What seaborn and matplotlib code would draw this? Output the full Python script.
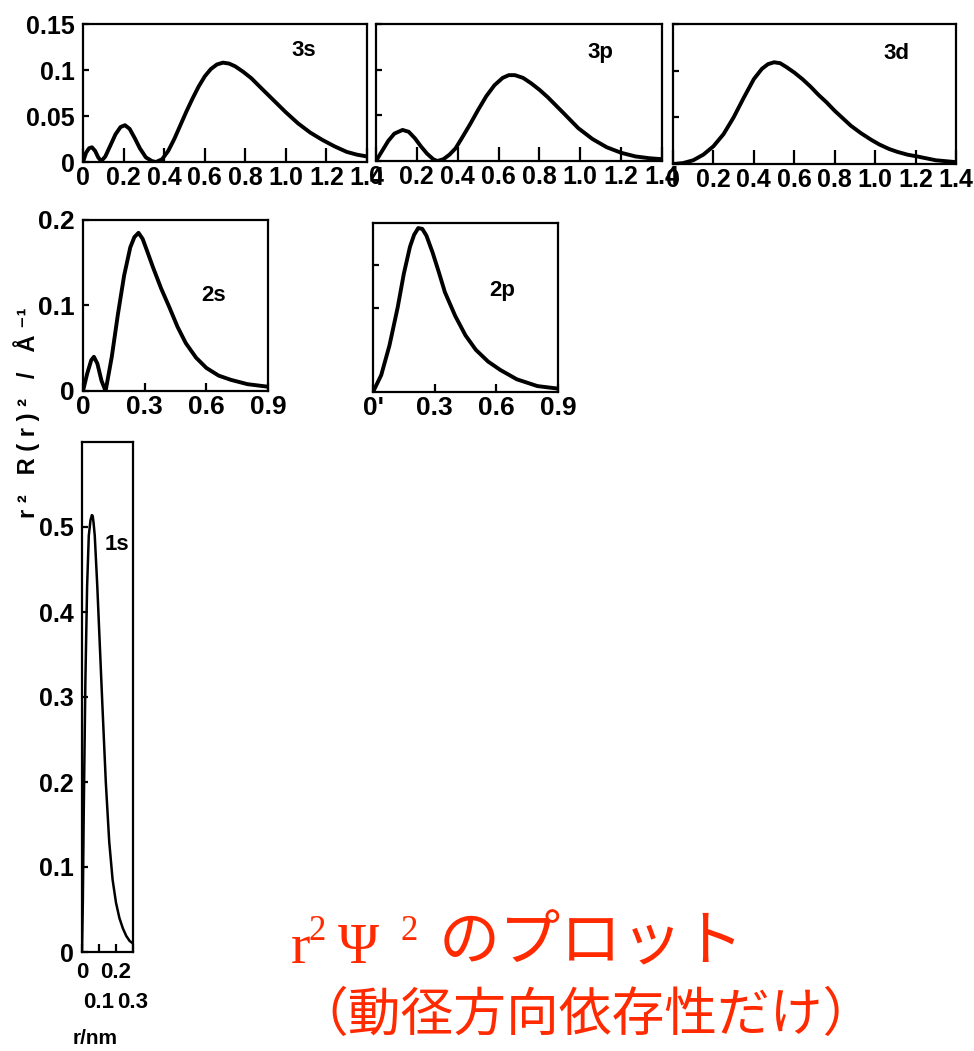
import numpy as np
import pandas as pd
import matplotlib
matplotlib.use("Agg")
import matplotlib.pyplot as plt
import seaborn as sns

# values (r in nm, r^2 R(r)^2 in A^-1)
r_3s = [0, 0.015, 0.03, 0.044, 0.06, 0.075, 0.09, 0.11, 0.135, 0.16, 0.185, 0.207, 0.23, 0.255, 0.28,
        0.31, 0.34, 0.36, 0.39, 0.42, 0.45, 0.48, 0.51, 0.54, 0.57, 0.60, 0.63, 0.66, 0.69, 0.72,
        0.75, 0.79, 0.83, 0.88, 0.94, 1.00, 1.06, 1.12, 1.18, 1.24, 1.30, 1.35, 1.40]
p_3s = [0, 0.010, 0.015, 0.016, 0.012, 0.005, 0.001, 0.006, 0.018, 0.030, 0.038, 0.040, 0.036, 0.026, 0.015,
        0.005, 0.001, 0.0, 0.003, 0.012, 0.025, 0.040, 0.055, 0.069, 0.082, 0.093, 0.101, 0.106, 0.108, 0.107,
        0.104, 0.098, 0.091, 0.080, 0.067, 0.054, 0.042, 0.032, 0.024, 0.017, 0.011, 0.008, 0.006]

r_3p = [0, 0.03, 0.06, 0.09, 0.13, 0.16, 0.19, 0.22, 0.25, 0.28, 0.30, 0.33, 0.36, 0.39, 0.42, 0.46,
        0.50, 0.54, 0.58, 0.62, 0.65, 0.68, 0.72, 0.76, 0.80, 0.84, 0.88, 0.92, 0.99, 1.06, 1.13,
        1.20, 1.27, 1.34, 1.40]
p_3p = [0, 0.011, 0.022, 0.030, 0.034, 0.032, 0.025, 0.016, 0.008, 0.002, 0.0, 0.002, 0.007, 0.014, 0.025, 0.040,
        0.056, 0.071, 0.083, 0.091, 0.094, 0.094, 0.091, 0.085, 0.078, 0.070, 0.061, 0.052, 0.036, 0.024, 0.015,
        0.009, 0.005, 0.003, 0.002]

r_3d = [0, 0.05, 0.10, 0.15, 0.20, 0.25, 0.30, 0.35, 0.40, 0.44, 0.47, 0.50, 0.53, 0.56, 0.60, 0.64, 0.68,
        0.72, 0.76, 0.80, 0.84, 0.88, 0.93, 0.98, 1.02, 1.07, 1.11, 1.16, 1.21, 1.30, 1.40]
p_3d = [0, 0.001, 0.004, 0.010, 0.019, 0.032, 0.050, 0.071, 0.091, 0.102, 0.107, 0.109, 0.108, 0.104, 0.098,
        0.091, 0.083, 0.074, 0.066, 0.057, 0.049, 0.041, 0.033, 0.026, 0.021, 0.016, 0.013, 0.010, 0.008,
        0.004, 0.002]

r_2s = [0, 0.02, 0.04, 0.053, 0.07, 0.09, 0.11, 0.14, 0.17, 0.20, 0.23, 0.25, 0.27, 0.29, 0.31, 0.34,
        0.38, 0.42, 0.46, 0.50, 0.55, 0.60, 0.66, 0.72, 0.80, 0.90]
p_2s = [0, 0.020, 0.036, 0.040, 0.032, 0.012, 0.0, 0.040, 0.090, 0.135, 0.168, 0.180, 0.185, 0.178, 0.165, 0.145,
        0.120, 0.098, 0.075, 0.056, 0.039, 0.027, 0.018, 0.013, 0.008, 0.005]

r_2p = [0, 0.04, 0.08, 0.12, 0.15, 0.18, 0.20, 0.22, 0.24, 0.26, 0.29, 0.32, 0.35, 0.40, 0.45, 0.50,
        0.56, 0.62, 0.70, 0.80, 0.90]
p_2p = [0, 0.020, 0.055, 0.100, 0.140, 0.172, 0.186, 0.194, 0.193, 0.185, 0.165, 0.142, 0.118, 0.090, 0.067,
        0.050, 0.036, 0.026, 0.015, 0.007, 0.004]

r_1s = [0, 0.005, 0.01, 0.02, 0.03, 0.04, 0.05, 0.058, 0.063, 0.068, 0.075, 0.09, 0.105, 0.12, 0.14, 0.16,
        0.18, 0.20, 0.22, 0.24, 0.26, 0.28, 0.30]
p_1s = [0, 0.06, 0.16, 0.32, 0.43, 0.49, 0.508, 0.514, 0.513, 0.505, 0.49, 0.43, 0.36, 0.29, 0.20, 0.13,
        0.085, 0.058, 0.040, 0.028, 0.019, 0.013, 0.010]

x3_ticks = [0, 0.2, 0.4, 0.6, 0.8, 1.0, 1.2, 1.4]
x3_labels = ["0", "0.2", "0.4", "0.6", "0.8", "1.0", "1.2", "1.4"]
y3_ticks = [0, 0.05, 0.1, 0.15]
y3_labels = ["0", "0.05", "0.1", "0.15"]
x2_ticks = [0, 0.3, 0.6, 0.9]
y2_ticks = [0, 0.1, 0.2]
x1_ticks = [0, 0.1, 0.2, 0.3]
x1_labels = ["0", "\n0.1", "0.2", "\n0.3"]
y1_ticks = [0, 0.1, 0.2, 0.3, 0.4, 0.5]

sns.set_style("ticks")
plt.rcParams["font.family"] = ["Liberation Sans", "DejaVu Sans"]
plt.rcParams["font.weight"] = "bold"
plt.rcParams["axes.linewidth"] = 1.6
plt.rcParams["xtick.direction"] = "in"
plt.rcParams["ytick.direction"] = "in"
plt.rcParams["xtick.major.width"] = 1.6
plt.rcParams["ytick.major.width"] = 1.6
for k in ["text.color", "axes.labelcolor", "xtick.color", "ytick.color", "axes.edgecolor"]:
    plt.rcParams[k] = "black"

W, H = 974, 1051
fig = plt.figure(figsize=(W / 100, H / 100), dpi=100)


def add_panel(x0, y0, x1, y1):
    # pixel box (left, top, right, bottom) -> figure fraction
    return fig.add_axes([x0 / W, 1 - y1 / H, (x1 - x0) / W, (y1 - y0) / H])


def draw(ax, r, p, lw=2.8):
    df = pd.DataFrame({"r": r, "p": p})
    sns.lineplot(data=df, x="r", y="p", ax=ax, color="black", linewidth=lw)
    ax.set_xlabel("")
    ax.set_ylabel("")


FS = 18

# row of n = 3
ax3s = add_panel(83, 24, 367, 162)
ax3p = add_panel(376, 24, 662, 161)
ax3d = add_panel(673, 24, 956, 164)
for ax, r, p, name, lx, ly in [(ax3s, r_3s, p_3s, "3s", 0.778, 0.81),
                               (ax3p, r_3p, p_3p, "3p", 0.783, 0.79),
                               (ax3d, r_3d, p_3d, "3d", 0.788, 0.786)]:
    draw(ax, r, p)
    ax.set_xlim(0, 1.4)
    ax.set_ylim(0, 0.15)
    ax.set_xticks(x3_ticks)
    ax.set_xticklabels(x3_labels, fontsize=FS)
    ax.set_yticks(y3_ticks)
    ax.tick_params(axis="x", length=10, pad=3)
    ax.tick_params(axis="y", length=4, pad=6)
    ax.text(lx, ly, name, transform=ax.transAxes, fontsize=16, fontweight="bold", ha="center", va="center")
ax3s.set_yticklabels(y3_labels, fontsize=FS)
ax3p.set_yticklabels([])
ax3d.set_yticklabels([])

# row of n = 2
ax2s = add_panel(83, 220, 268, 391)
ax2p = add_panel(373, 223, 558, 392)
draw(ax2s, r_2s, p_2s)
draw(ax2p, r_2p, p_2p)
for ax in (ax2s, ax2p):
    ax.set_xlim(0, 0.9)
    ax.set_ylim(0, 0.2)
    ax.set_xticks(x2_ticks)
    ax.tick_params(axis="x", length=6, pad=3)
    ax.tick_params(axis="y", length=4, pad=6)
ax2s.set_xticklabels(["0", "0.3", "0.6", "0.9"], fontsize=FS + 1)
ax2s.set_yticks(y2_ticks)
ax2s.set_yticklabels(["0", "0.1", "0.2"], fontsize=FS + 1)
ax2p.set_xticklabels(["0'", "0.3", "0.6", "0.9"], fontsize=FS + 1)
ax2p.set_yticks([0.1, 0.15])
ax2p.set_yticklabels([])
ax2s.text(0.708, 0.56, "2s", transform=ax2s.transAxes, fontsize=16, fontweight="bold", ha="center", va="center")
ax2p.text(0.697, 0.60, "2p", transform=ax2p.transAxes, fontsize=16, fontweight="bold", ha="center", va="center")

# n = 1
ax1s = add_panel(82, 442, 133, 952)
draw(ax1s, r_1s, p_1s, lw=1.8)
ax1s.set_xlim(0, 0.3)
ax1s.set_ylim(0, 0.6)
ax1s.set_xticks(x1_ticks)
ax1s.set_xticklabels(x1_labels, fontsize=16, linespacing=1.6)
ax1s.set_yticks(y1_ticks)
ax1s.set_yticklabels(["0", "0.1", "0.2", "0.3", "0.4", "0.5"], fontsize=FS)
ax1s.tick_params(axis="x", length=6, pad=7)
ax1s.tick_params(axis="y", length=4, pad=6)
ax1s.text(0.69, 0.80, "1s", transform=ax1s.transAxes, fontsize=16, fontweight="bold", ha="center", va="center")

fig.text(95 / W, 1 - 1038 / H, "r/nm", fontsize=15, fontweight="bold", ha="center", va="center")
fig.text(27 / W, 1 - 413 / H, "r ²   R ( r ) ²   /   Å ⁻¹", rotation=90, fontsize=17, fontweight="bold",
         ha="center", va="center")

# red caption
red = "#ff2a00"
serif = ["Liberation Serif", "DejaVu Serif"]
cjk = ["Noto Sans CJK JP", "DejaVu Sans"]
base1 = 1 - 963 / H
fig.text(291 / W, base1, "r", fontsize=42, color=red, family=serif, fontweight="normal", va="baseline")
fig.text(308 / W, 1 - 940 / H, "2", fontsize=25, color=red, family=serif, fontweight="normal", va="baseline")
fig.text(338 / W, base1, "Ψ", fontsize=40, color=red, family=serif, fontweight="normal", va="baseline")
fig.text(401 / W, 1 - 940 / H, "2", fontsize=25, color=red, family=serif, fontweight="normal", va="baseline")
fig.text(439 / W, 1 - 943 / H, "のプロット", fontsize=44, color=red,
         family=cjk, fontweight="normal", ha="left", va="center")
fig.text(585 / W, 1 - 1015 / H, "（動径方向依存性だけ）", fontsize=38, color=red,
         family=cjk, fontweight="normal", ha="center", va="center")

fig.savefig("out.png", dpi=100)
